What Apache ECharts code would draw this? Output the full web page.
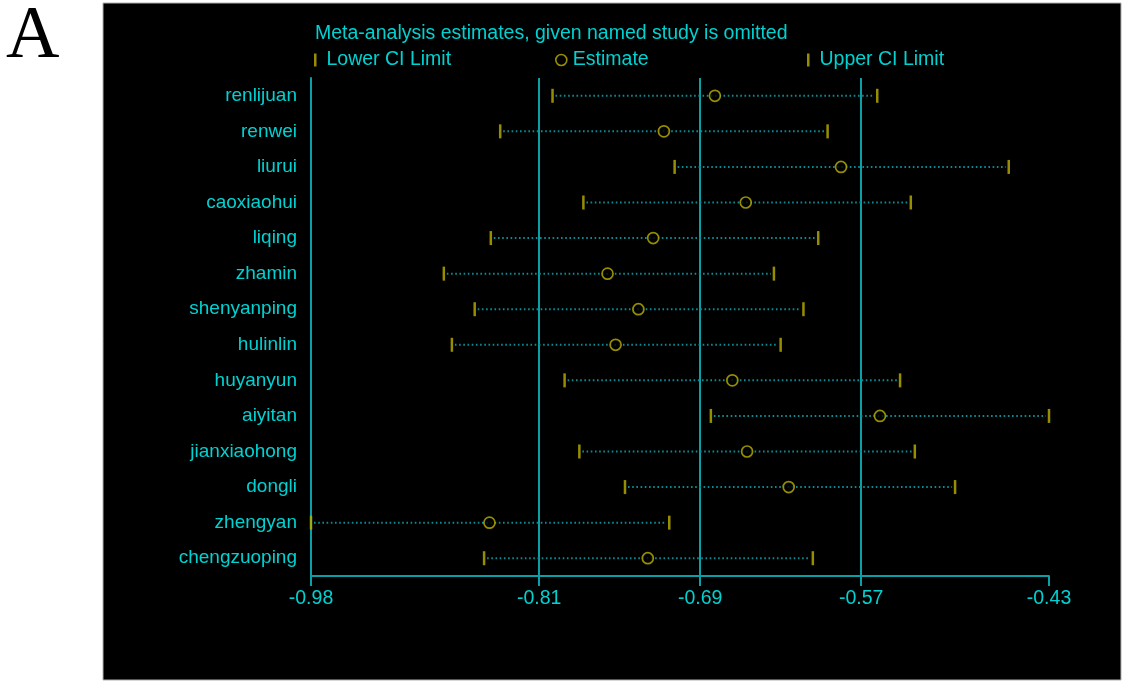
<!DOCTYPE html>
<html>
<head>
<meta charset="utf-8">
<script src="https://cdn.jsdelivr.net/npm/echarts@6/dist/echarts.min.js"></script>
<style>
  html, body { margin: 0; padding: 0; background: #ffffff; }
  #chart { width: 1125px; height: 683px; }
</style>
</head>
<body>
<div id="chart"></div>
<script>
// ---- data ----
const studies = ['renlijuan', 'renwei', 'liurui', 'caoxiaohui', 'liqing', 'zhamin', 'shenyanping',
  'hulinlin', 'huyanyun', 'aiyitan', 'jianxiaohong', 'dongli', 'zhengyan', 'chengzuoping'];
const lowerCI = [-0.800, -0.839, -0.709, -0.777, -0.846, -0.881, -0.858,
  -0.875, -0.791, -0.682, -0.780, -0.746, -0.980, -0.851];
const estimate = [-0.679, -0.717, -0.585, -0.656, -0.725, -0.759, -0.736,
  -0.753, -0.666, -0.556, -0.655, -0.624, -0.847, -0.729];
const upperCI = [-0.558, -0.595, -0.460, -0.533, -0.602, -0.635, -0.613,
  -0.630, -0.541, -0.430, -0.530, -0.500, -0.713, -0.606];
const tickValues = [-0.98, -0.81, -0.69, -0.57, -0.43];
const refLines = [-0.81, -0.69, -0.57];
const titleText = 'Meta-analysis estimates, given named study is omitted';
const panelLetter = 'A';

// ---- style ----
const TEXT = '#00d2d2';
const LINE = '#0aa0a8';
const DOT = '#0a8c94';
const YEL = '#bcb200';
const FONT = 'Liberation Sans, Arial, sans-serif';

const chart = echarts.init(document.getElementById('chart'), null, { renderer: 'canvas' });

const rangeData = studies.map((s, i) => [lowerCI[i], upperCI[i], i]);

const option = {
  backgroundColor: '#ffffff',
  animation: false,
  graphic: [
    {
      type: 'rect', z: -10, silent: true,
      shape: { x: 103, y: 3, width: 1018, height: 677 },
      style: { fill: '#000000', stroke: '#b0b0b0', lineWidth: 1 }
    },
    {
      type: 'text', z: 10, silent: true,
      x: 6, y: 38,
      style: { text: panelLetter, font: '74px "Liberation Serif", "Times New Roman", serif',
        fill: '#000000', verticalAlign: 'middle', align: 'left' }
    }
  ],
  title: {
    text: titleText,
    left: 315, top: 24, padding: 0,
    textStyle: { color: TEXT, fontSize: 19.5, fontWeight: 'normal', fontFamily: FONT }
  },
  legend: [
    {
      data: [{ name: 'Lower CI Limit', icon: 'rect' }],
      left: 314, top: 50, padding: 0, itemWidth: 2.5, itemHeight: 13,
      textStyle: { color: TEXT, fontSize: 19.5, fontFamily: FONT, padding: [0, 0, 0, 5] },
      selectedMode: false
    },
    {
      data: [{ name: 'Estimate', icon: 'circle' }],
      left: 555, top: 50, padding: 0, itemWidth: 11, itemHeight: 11,
      itemStyle: { color: '#000000', borderColor: YEL, borderWidth: 1.6 },
      textStyle: { color: TEXT, fontSize: 19.5, fontFamily: FONT, padding: [0, 0, 0, 1] },
      selectedMode: false
    },
    {
      data: [{ name: 'Upper CI Limit', icon: 'rect' }],
      left: 807, top: 50, padding: 0, itemWidth: 2.5, itemHeight: 13,
      textStyle: { color: TEXT, fontSize: 19.5, fontFamily: FONT, padding: [0, 0, 0, 5] },
      selectedMode: false
    }
  ],
  grid: { left: 311, right: 76, top: 78, bottom: 107, containLabel: false },
  xAxis: {
    type: 'value',
    min: -0.98, max: -0.43,
    splitLine: { show: false },
    axisLine: { show: true, onZero: false, lineStyle: { color: LINE, width: 2 } },
    axisTick: { show: true, length: 10, customValues: tickValues, lineStyle: { color: LINE, width: 2 } },
    axisLabel: { customValues: tickValues, color: TEXT, fontSize: 19.5, fontFamily: FONT, margin: 13,
      formatter: v => v.toFixed(2) }
  },
  yAxis: {
    type: 'category',
    data: studies,
    inverse: true,
    boundaryGap: true,
    axisLine: { show: true, onZero: false, lineStyle: { color: LINE, width: 2 } },
    axisTick: { show: false },
    splitLine: { show: false },
    axisLabel: { color: TEXT, fontSize: 19, fontFamily: FONT, margin: 14 }
  },
  series: [
    {
      name: 'CI range',
      type: 'custom',
      z: 1,
      dimensions: ['lower', 'upper', 'row'],
      data: rangeData,
      encode: { x: ['lower', 'upper'], y: 'row' },
      renderItem: function (params, api) {
        const row = api.value(2);
        const p1 = api.coord([api.value(0), row]);
        const p2 = api.coord([api.value(1), row]);
        return {
          type: 'line',
          shape: { x1: p1[0] + 3, y1: p1[1], x2: p2[0] - 3, y2: p2[1] },
          style: { stroke: DOT, lineWidth: 2, lineDash: [1.6, 2.6], lineCap: 'butt' }
        };
      }
    },
    {
      name: 'Lower CI Limit',
      type: 'scatter',
      z: 3,
      symbol: 'rect',
      symbolSize: [2.5, 14],
      itemStyle: { color: YEL },
      data: studies.map((s, i) => [lowerCI[i], i]),
      markLine: {
        silent: true,
        z: 0,
        symbol: ['none', 'none'],
        label: { show: false },
        lineStyle: { color: LINE, width: 2, type: 'solid' },
        data: refLines.map(v => ({ xAxis: v }))
      }
    },
    {
      name: 'Upper CI Limit',
      type: 'scatter',
      z: 3,
      symbol: 'rect',
      symbolSize: [2.5, 14],
      itemStyle: { color: YEL },
      data: studies.map((s, i) => [upperCI[i], i])
    },
    {
      name: 'Estimate',
      type: 'scatter',
      z: 4,
      symbol: 'circle',
      symbolSize: 11,
      itemStyle: { color: '#000000', borderColor: YEL, borderWidth: 1.7 },
      data: studies.map((s, i) => [estimate[i], i])
    }
  ]
};

chart.setOption(option);
</script>
</body>
</html>
